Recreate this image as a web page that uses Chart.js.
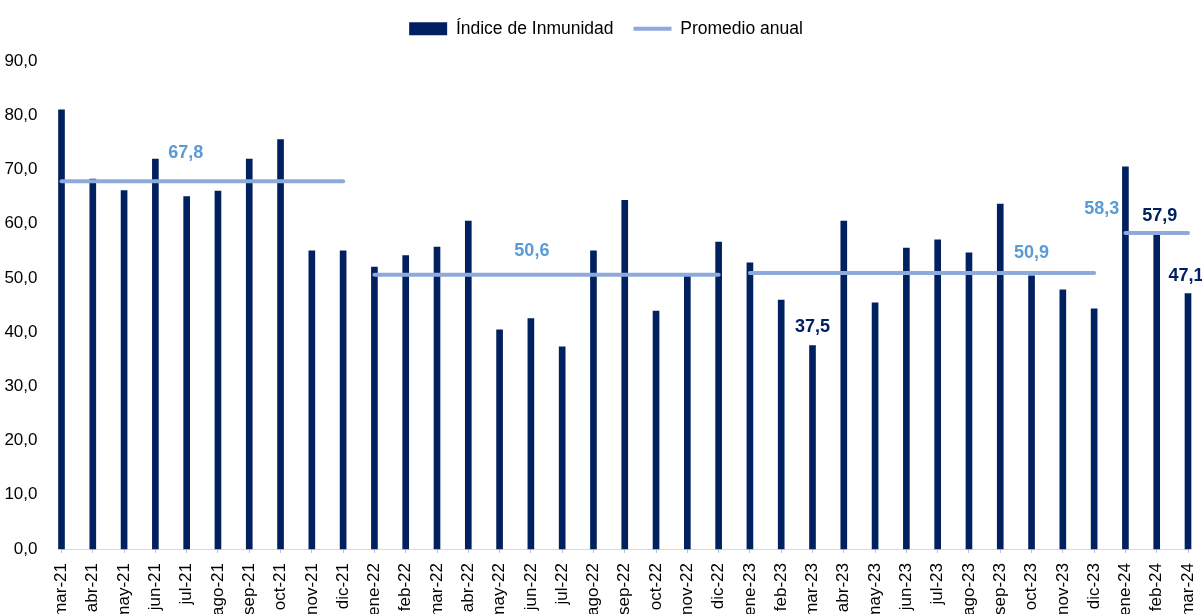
<!DOCTYPE html>
<html>
<head>
<meta charset="utf-8">
<script src="https://cdn.jsdelivr.net/npm/chart.js@4"></script>
<style>
  html, body { margin: 0; padding: 0; background: #ffffff; }
  #wrap { width: 1202px; height: 614px; }
</style>
</head>
<body>
<div id="wrap"><canvas id="inmunidadChart"></canvas></div>
<script>
// Colors
const navy = '#002060';
const avgLine = '#8EA9DB';
const avgText = '#5B9BD5';
const axisGray = '#d9d9d9';

// Data
const months = [
  'mar-21', 'abr-21', 'may-21', 'jun-21', 'jul-21', 'ago-21', 'sep-21', 'oct-21', 'nov-21', 'dic-21',
  'ene-22', 'feb-22', 'mar-22', 'abr-22', 'may-22', 'jun-22', 'jul-22', 'ago-22', 'sep-22', 'oct-22', 'nov-22', 'dic-22',
  'ene-23', 'feb-23', 'mar-23', 'abr-23', 'may-23', 'jun-23', 'jul-23', 'ago-23', 'sep-23', 'oct-23', 'nov-23', 'dic-23',
  'ene-24', 'feb-24', 'mar-24'
];
const indiceInmunidad = [
  81.0, 68.2, 66.1, 71.9, 65.0, 66.0, 71.9, 75.5, 55.0, 55.0,
  52.0, 54.1, 55.7, 60.5, 40.4, 42.5, 37.3, 55.0, 64.3, 43.9, 50.4, 56.6,
  52.8, 45.9, 37.5, 60.5, 45.4, 55.5, 57.0, 54.6, 63.6, 50.4, 47.8, 44.3,
  70.5, 57.9, 47.1
];
const years = ['21', '22', '23', '24'];
const promedioAnual = [67.8, 50.6, 50.9, 58.3];
const yTicks = [0, 10, 20, 30, 40, 50, 60, 70, 80, 90];

// yearly average repeated over each month of that year
const promedioData = months.map(m => promedioAnual[years.indexOf(m.split('-')[1])]);

const fmt = v => v.toFixed(1).replace('.', ',');

// value labels (average labels light blue, bar labels navy)
const valueLabels = [
  { idx: 4, value: promedioAnual[0], dx: -1, dy: -28, color: avgText },
  { idx: 15, value: promedioAnual[1], dx: 1, dy: -24, color: avgText },
  { idx: 31, value: promedioAnual[2], dx: 0, dy: -20, color: avgText },
  { idx: 33.5, value: promedioAnual[3], dx: -8, dy: -24, color: avgText },
  { idx: 24, value: indiceInmunidad[24], dx: 0, dy: -19, color: navy },
  { idx: 35, value: indiceInmunidad[35], dx: 3, dy: -19, color: navy },
  { idx: 36, value: indiceInmunidad[36], dx: -2, dy: -18, color: navy }
];

const labelPlugin = {
  id: 'valueLabels',
  afterDatasetsDraw(chart) {
    const ctx = chart.ctx;
    const x = chart.scales.x;
    const y = chart.scales.y;
    ctx.save();
    ctx.font = 'bold 18px "Liberation Sans", Arial, sans-serif';
    ctx.textAlign = 'center';
    ctx.textBaseline = 'middle';
    valueLabels.forEach(l => {
      ctx.fillStyle = l.color;
      ctx.fillText(fmt(l.value), x.getPixelForValue(l.idx) + l.dx, y.getPixelForValue(l.value) + l.dy);
    });
    ctx.restore();
  }
};

// fixed legend height, legend nudged right like the original
const legendTweak = {
  id: 'legendTweak',
  beforeInit(chart) {
    const fit = chart.legend.fit;
    chart.legend.fit = function () {
      fit.bind(chart.legend)();
      this.height = 61;
    };
  },
  afterLayout(chart) {
    chart.legend.left += 12;
    chart.legend.right += 12;
  }
};

Chart.defaults.font.family = '"Liberation Sans", Arial, sans-serif';
Chart.defaults.color = '#000000';

const ctx = document.getElementById('inmunidadChart').getContext('2d');
new Chart(ctx, {
  type: 'bar',
  data: {
    labels: months,
    datasets: [
      {
        label: 'Índice de Inmunidad',
        data: indiceInmunidad,
        backgroundColor: navy,
        barThickness: 6,
        pointStyle: 'rect',
        clip: false,
        order: 1
      },
      {
        type: 'line',
        label: 'Promedio anual',
        data: promedioData,
        borderColor: avgLine,
        backgroundColor: avgLine,
        borderWidth: 4,
        borderCapStyle: 'round',
        pointRadius: 0,
        pointStyle: 'line',
        clip: false,
        segment: {
          borderColor: c => c.p0.parsed.y !== c.p1.parsed.y ? 'transparent' : undefined
        },
        order: 0
      }
    ]
  },
  options: {
    responsive: true,
    maintainAspectRatio: false,
    animation: false,
    layout: { padding: { left: 0, right: 14, top: 0, bottom: 0 } },
    plugins: {
      tooltip: { enabled: false },
      legend: {
        position: 'top',
        labels: {
          font: { size: 17.5 },
          usePointStyle: true,
          pointStyleWidth: 38,
          boxHeight: 13,
          padding: 20,
          sort: (a, b) => a.datasetIndex - b.datasetIndex
        }
      }
    },
    scales: {
      x: {
        offset: false,
        grid: {
          display: true,
          offset: false,
          drawOnChartArea: false,
          tickLength: 4,
          color: '#bfbfbf'
        },
        border: { color: axisGray, width: 1 },
        ticks: {
          autoSkip: false,
          minRotation: 90,
          maxRotation: 90,
          padding: 10,
          font: { size: 17 },
          color: '#000000'
        },
        afterFit(scale) {
          scale.height = 65;
          scale.paddingLeft = 0;
          scale.paddingRight = 0;
        }
      },
      y: {
        min: yTicks[0],
        max: yTicks[yTicks.length - 1],
        grid: { display: false },
        border: { display: false },
        afterBuildTicks(scale) { scale.ticks = yTicks.map(v => ({ value: v })); },
        ticks: {
          padding: 16,
          font: { size: 17 },
          color: '#000000',
          callback: v => fmt(v)
        },
        afterFit(scale) { scale.width = 61.5; }
      }
    }
  },
  plugins: [labelPlugin, legendTweak]
});
</script>
</body>
</html>
